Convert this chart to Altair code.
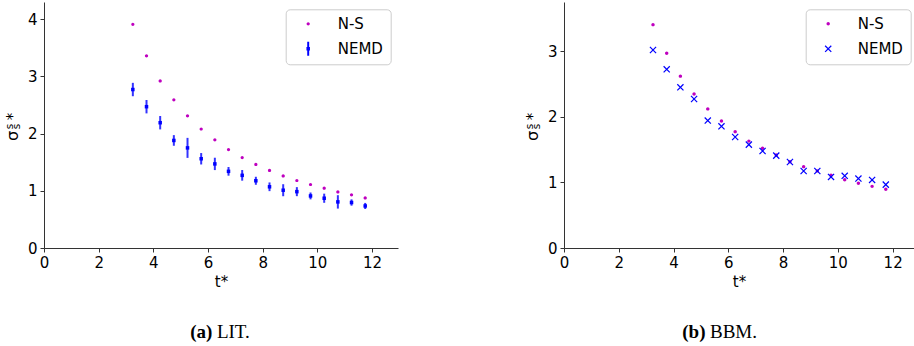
import altair as alt
import pandas as pd

# ---- data -------------------------------------------------------------
t_star = [3.25, 3.75, 4.25, 4.75, 5.25, 5.75, 6.25, 6.75, 7.25,
          7.75, 8.25, 8.75, 9.25, 9.75, 10.25, 10.75, 11.25, 11.75]

lit_ns = [3.91, 3.36, 2.92, 2.59, 2.31, 2.08, 1.89, 1.72, 1.58,
          1.46, 1.355, 1.26, 1.18, 1.11, 1.045, 0.98, 0.93, 0.875]
lit_nemd = [2.77, 2.47, 2.19, 1.88, 1.75, 1.56, 1.47, 1.34, 1.27,
            1.175, 1.07, 1.01, 0.985, 0.91, 0.87, 0.806, 0.795, 0.735]
lit_nemd_err = [0.117, 0.117, 0.117, 0.093, 0.175, 0.10, 0.108, 0.076, 0.093,
                0.07, 0.076, 0.105, 0.079, 0.06, 0.08, 0.117, 0.055, 0.053]

bbm_ns = [3.405, 2.968, 2.62, 2.348, 2.12, 1.936, 1.774, 1.63, 1.52,
          1.419, 1.315, 1.24, 1.175, 1.11, 1.04, 0.986, 0.94, 0.895]
bbm_nemd = [3.018, 2.724, 2.45, 2.271, 1.942, 1.855, 1.692, 1.576, 1.479,
            1.408, 1.311, 1.174, 1.174, 1.083, 1.10, 1.058, 1.037, 0.966]

series_names = ["N-S", "NEMD"]
x_ticks = [0, 2, 4, 6, 8, 10, 12]

# ---- style ------------------------------------------------------------
MAGENTA = "#bf00bf"
BLUE = "#0000ff"
SANS = "DejaVu Sans"
SERIF = "Liberation Serif"
AXIS_GRAY = "#333333"

PLOT_H = 246
LEFT_W = 354
RIGHT_W = 350

# marker paths (unit square -1..1)
DOT_SMALL = "M0.23,0A0.23,0.23 0 1,1 -0.23,0A0.23,0.23 0 1,1 0.23,0Z"
SQUARE_SMALL = "M-0.25,-0.25H0.25V0.25H-0.25Z"
ERRBAR_SYMBOL = "M-0.14,-1H0.14V1H-0.14Z M-0.25,-0.25H0.25V0.25H-0.25Z"
DOT_MED = "M0.55,0A0.55,0.55 0 1,1 -0.55,0A0.55,0.55 0 1,1 0.55,0Z"
X_MARK = ("M-0.86,-1.14L1.14,0.86L0.86,1.14L-1.14,-0.86Z "
          "M0.86,-1.14L1.14,-0.86L-0.86,1.14L-1.14,0.86Z")

# ---- tables -----------------------------------------------------------
lit_ns_df = pd.DataFrame({"t": t_star, "v": lit_ns, "series": "N-S"})
lit_nemd_df = pd.DataFrame({
    "t": t_star,
    "v": lit_nemd,
    "lo": [v - e for v, e in zip(lit_nemd, lit_nemd_err)],
    "hi": [v + e for v, e in zip(lit_nemd, lit_nemd_err)],
    "series": "NEMD",
})
bbm_df = pd.DataFrame({
    "t": t_star * 2,
    "v": bbm_ns + bbm_nemd,
    "series": ["N-S"] * len(t_star) + ["NEMD"] * len(t_star),
})


def legend(symbol_size, nemd_shape, ns_shape):
    return alt.Legend(
        orient="none", legendX=241.7, legendY=7.3, title=None,
        labelFont=SANS, labelFontSize=15, labelColor="black",
        strokeColor="#cccccc", fillColor="white", cornerRadius=4,
        padding=7, symbolOffset=8, labelOffset=22, rowPadding=9,
        symbolSize=symbol_size, symbolStrokeWidth=0,
        symbolType=alt.ExprRef(
            expr=f"datum.value === 'NEMD' ? '{nemd_shape}' : '{ns_shape}'"
        ),
    )


def ylabel_layers():
    # sigma with stacked super/subscript s, then an asterisk, read bottom-up
    one = alt.Data(values=[{}])
    parts = [
        ("σ", 16, -31, 134),
        ("s", 10.5, -34, 124.5),
        ("s", 10.5, -27, 124.5),
        ("*", 15, -31.5, 114.5),
    ]
    out = []
    for txt, fs, x, y in parts:
        out.append(
            alt.Chart(one).mark_text(
                text=txt, font=SANS, fontSize=fs, angle=270,
                align="center", baseline="middle", color="black",
            ).encode(x=alt.value(x), y=alt.value(y))
        )
    return out


def caption_layers(label, name, split_x):
    # bold panel letter ends at split_x, the plain name starts just after it
    one = alt.Data(values=[{}])
    bold = alt.Chart(one).mark_text(
        text=label, font=SERIF, fontSize=19, fontWeight="bold",
        align="right", baseline="alphabetic", color="black",
    ).encode(x=alt.value(split_x), y=alt.value(336))
    plain = alt.Chart(one).mark_text(
        text=name, font=SERIF, fontSize=19,
        align="left", baseline="alphabetic", color="black",
    ).encode(x=alt.value(split_x + 4.5), y=alt.value(336))
    return [bold, plain]


def x_enc(xmax):
    return alt.X("t:Q", scale=alt.Scale(domain=[0, xmax], nice=False, zero=True),
                 axis=alt.Axis(values=x_ticks, title="t*", format="d"))


def y_enc(field, ymax, ticks):
    return alt.Y(f"{field}:Q", scale=alt.Scale(domain=[0, ymax], nice=False, zero=True),
                 axis=alt.Axis(values=ticks, title=None, format="d"))


lit_color = alt.Color(
    "series:N",
    scale=alt.Scale(domain=series_names, range=[MAGENTA, BLUE]),
    legend=legend(196, ERRBAR_SYMBOL, DOT_SMALL),
)

# ---- panel (a): LIT ---------------------------------------------------
lit_bars = alt.Chart(lit_nemd_df).mark_rule(
    color=BLUE, strokeWidth=2, opacity=0.8
).encode(
    x=x_enc(12.95),
    y=y_enc("lo", 4.3, [0, 1, 2, 3, 4]),
    y2="hi:Q",
)

lit_ns_pts = alt.Chart(lit_ns_df).mark_point(
    filled=True, size=196, opacity=1, shape=DOT_SMALL
).encode(
    x=x_enc(12.95),
    y=y_enc("v", 4.3, [0, 1, 2, 3, 4]),
    color=lit_color,
)

lit_nemd_pts = alt.Chart(lit_nemd_df).mark_point(
    filled=True, size=196, opacity=1, shape=SQUARE_SMALL
).encode(
    x=x_enc(12.95),
    y=y_enc("v", 4.3, [0, 1, 2, 3, 4]),
    color=lit_color,
)

panel_a = alt.layer(
    lit_bars, lit_ns_pts, lit_nemd_pts,
    *ylabel_layers(), *caption_layers("(a)", "LIT.", 168.4)
).properties(width=LEFT_W, height=PLOT_H)

# ---- panel (b): BBM ---------------------------------------------------
bbm_points = alt.Chart(bbm_df).mark_point(filled=True, size=38, opacity=1).encode(
    x=x_enc(12.78),
    y=y_enc("v", 3.75, [0, 1, 2, 3]),
    color=alt.Color("series:N",
                    scale=alt.Scale(domain=series_names, range=[MAGENTA, BLUE]),
                    legend=legend(38, X_MARK, DOT_MED)),
    shape=alt.Shape("series:N",
                    scale=alt.Scale(domain=series_names, range=[DOT_MED, X_MARK]),
                    legend=None),
)

panel_b = alt.layer(
    bbm_points, *ylabel_layers(), *caption_layers("(b)", "BBM.", 141.5)
).properties(width=RIGHT_W, height=PLOT_H)

chart = alt.hconcat(panel_a, panel_b, spacing=127).resolve_scale(
    color="independent", shape="independent", x="independent", y="independent"
).resolve_legend(
    color="independent", shape="independent"
).properties(
    padding={"left": 5, "top": 2, "right": 0, "bottom": 0},
    background="white",
).configure_view(
    stroke=None
).configure_axis(
    grid=False,
    domainColor=AXIS_GRAY, domainWidth=1,
    tickColor=AXIS_GRAY, tickSize=4, tickWidth=1,
    labelFont=SANS, labelFontSize=15, labelColor="black", labelPadding=3,
    labelFlush=False,
    titleFont=SANS, titleFontSize=15, titleFontWeight="normal", titleColor="black",
    titlePadding=4,
)

chart.save("out.html", embed_options={"renderer": "svg", "actions": False})
